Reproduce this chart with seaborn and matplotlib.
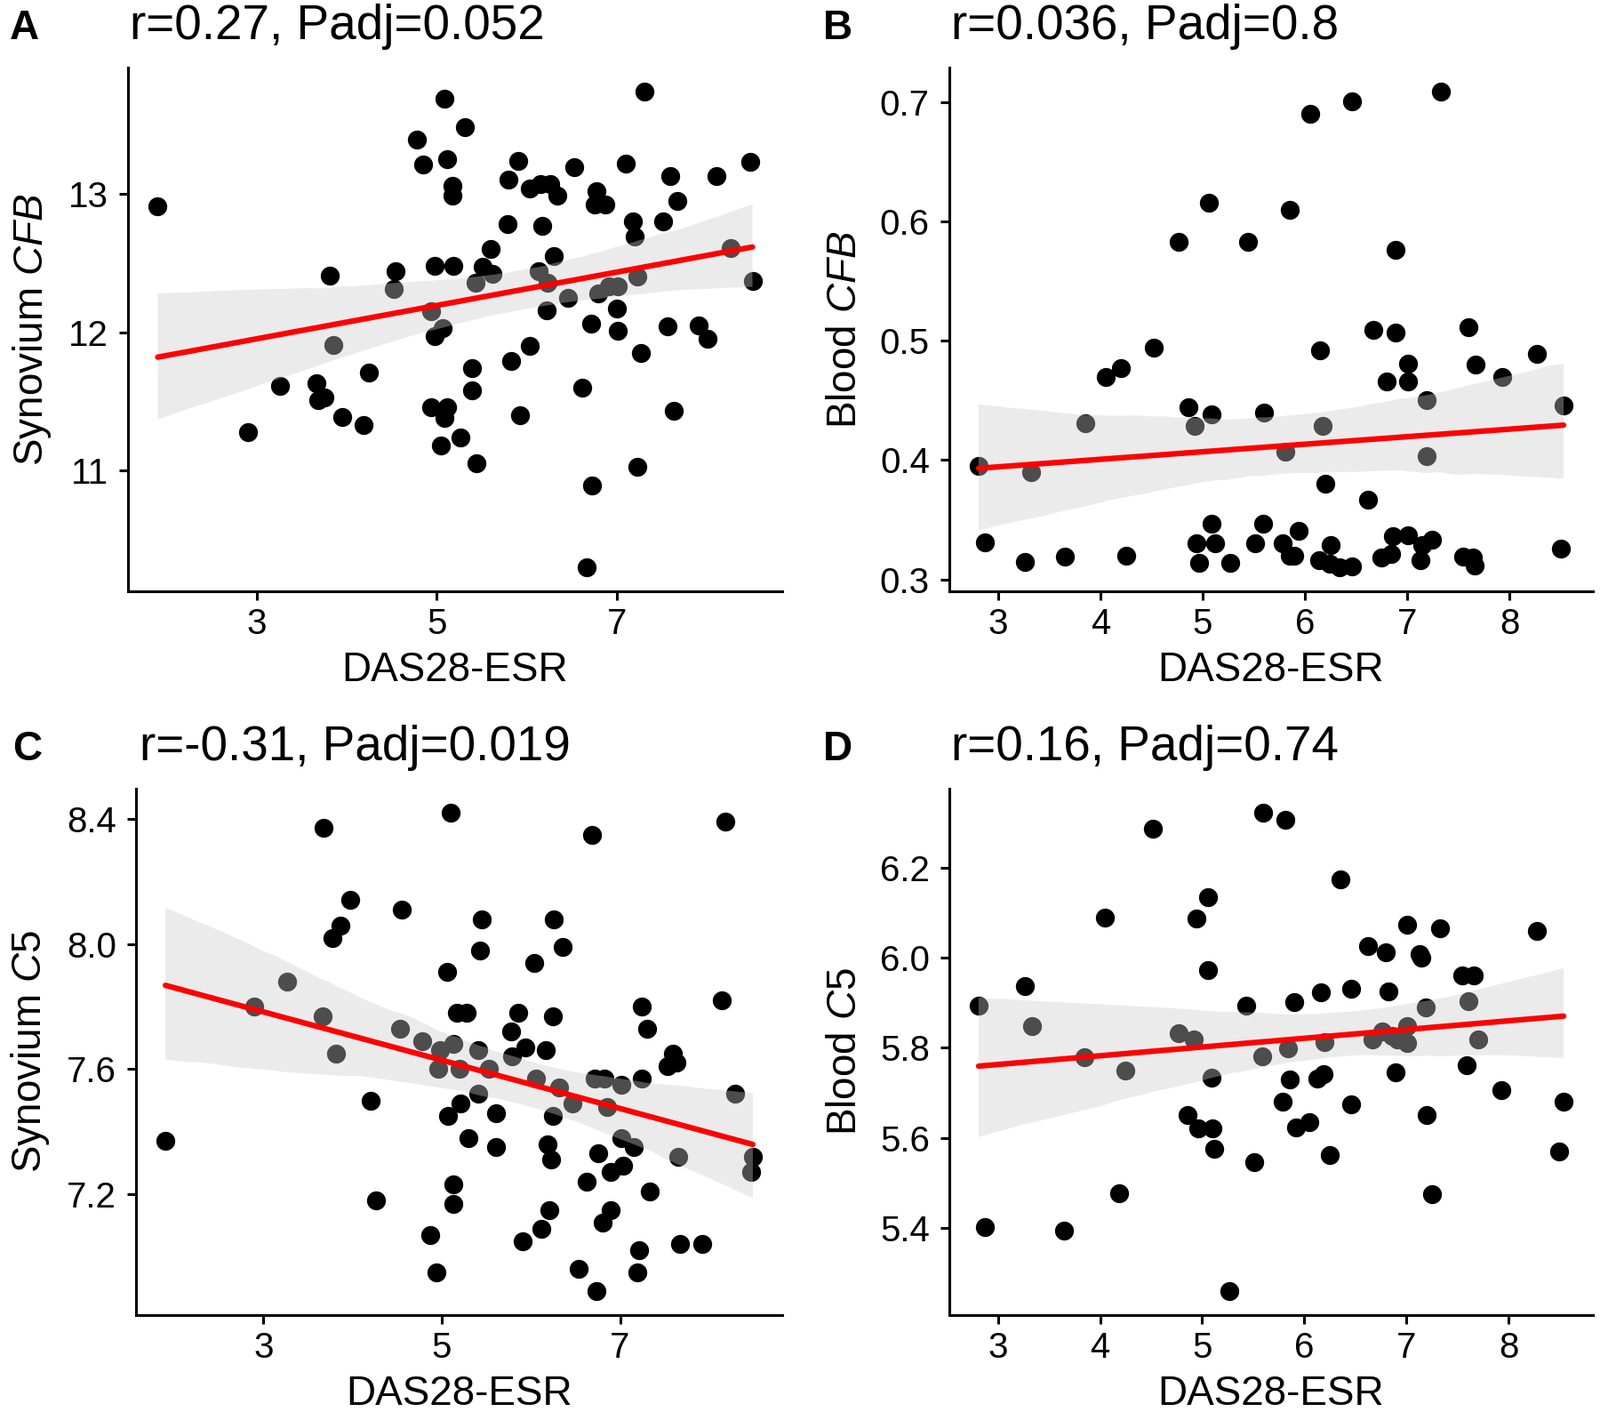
import matplotlib
matplotlib.use("Agg")
import matplotlib.pyplot as plt
import numpy as np
import pandas as pd
import seaborn as sns

# Panel A: synovium CFB vs DAS28-ESR
a_das28 = [1.90, 2.90, 3.26, 3.81, 3.85, 3.66, 3.68, 3.75, 3.95, 4.19, 4.25, 4.54, 4.52, 4.78,
           4.85, 5.09, 5.31, 5.12, 5.18, 5.18, 4.98, 5.19, 4.94, 5.07, 4.98, 4.94, 5.12, 5.09,
           5.05, 5.26, 5.44, 5.39, 5.39, 5.43, 5.51, 5.62, 5.60, 5.79, 5.80, 5.91, 5.83, 5.93,
           6.03, 6.03, 6.15, 6.26, 6.34, 6.17, 6.30, 6.13, 6.23, 6.22, 6.46, 6.53, 6.62, 6.72,
           6.73, 6.67, 6.78, 6.76, 6.87, 6.80, 6.91, 7.01, 7.00, 7.01, 7.10, 7.18, 7.20, 7.23,
           7.27, 7.23, 7.31, 7.52, 7.60, 7.67, 7.57, 7.64, 7.91, 8.11, 8.01, 8.27, 8.48, 8.51]
a_cfb = [12.91, 11.28, 11.61, 12.41, 11.91, 11.63, 11.51, 11.53, 11.39, 11.33, 11.71, 12.44,
         12.31, 13.39, 13.21, 13.69, 13.48, 13.25, 13.06, 12.99, 12.48, 12.48, 12.15, 12.03,
         11.97, 11.46, 11.46, 11.38, 11.18, 11.24, 11.05, 11.58, 11.74, 12.36, 12.47, 12.42,
         12.60, 12.78, 13.10, 13.24, 11.79, 11.40, 11.90, 13.04, 13.07, 13.07, 12.99, 12.77,
         12.55, 12.44, 12.36, 12.16, 12.25, 13.19, 11.60, 12.06, 10.89, 10.30, 13.02, 12.92,
         12.92, 12.28, 12.33, 12.33, 12.17, 12.01, 13.22, 12.80, 12.69, 12.40, 11.85, 11.03,
         13.74, 12.80, 13.13, 12.95, 12.04, 11.43, 12.05, 13.13, 11.95, 12.61, 13.23, 12.37]

# Panel B: blood CFB vs DAS28-ESR
b_das28 = [2.81, 2.87, 3.32, 3.26, 3.65, 3.85, 4.05, 4.20, 4.25, 4.52, 4.77, 4.86, 4.92, 4.94,
           4.97, 5.06, 5.09, 5.09, 5.12, 5.27, 5.44, 5.51, 5.59, 5.60, 5.81, 5.78, 5.85, 5.85,
           5.94, 5.90, 6.05, 6.15, 6.17, 6.20, 6.25, 6.14, 6.24, 6.34, 6.46, 6.46, 6.62, 6.67,
           6.75, 6.80, 6.84, 6.86, 6.89, 6.89, 7.01, 7.01, 7.01, 7.13, 7.15, 7.19, 7.19, 7.24,
           7.33, 7.55, 7.60, 7.64, 7.66, 7.67, 7.93, 8.27, 8.50, 8.53]
b_cfb = [0.395, 0.331, 0.390, 0.315, 0.319, 0.431, 0.470, 0.477, 0.320, 0.494, 0.583, 0.444,
         0.429, 0.330, 0.314, 0.616, 0.438, 0.347, 0.330, 0.314, 0.583, 0.330, 0.347, 0.440,
         0.407, 0.330, 0.610, 0.320, 0.341, 0.320, 0.690, 0.492, 0.429, 0.380, 0.329, 0.316,
         0.313, 0.310, 0.311, 0.701, 0.367, 0.509, 0.318, 0.466, 0.321, 0.336, 0.507, 0.576,
         0.481, 0.466, 0.337, 0.316, 0.329, 0.450, 0.403, 0.333, 0.709, 0.319, 0.511, 0.318,
         0.312, 0.480, 0.470, 0.489, 0.326, 0.446]

# Panel C: synovium C5 vs DAS28-ESR
c_das28 = [1.90, 2.90, 3.27, 3.67, 3.66, 3.81, 3.77, 3.86, 3.97, 4.20, 4.26, 4.55, 4.53, 4.78,
           4.87, 4.94, 4.98, 4.96, 5.06, 5.10, 5.07, 5.13, 5.13, 5.13, 5.17, 5.28, 5.20, 5.21,
           5.30, 5.41, 5.41, 5.43, 5.45, 5.53, 5.61, 5.61, 5.78, 5.79, 5.86, 5.94, 5.91, 6.04,
           6.06, 6.12, 6.17, 6.19, 6.23, 6.25, 6.26, 6.25, 6.21, 6.32, 6.36, 6.47, 6.54, 6.63,
           6.69, 6.72, 6.83, 6.76, 6.74, 6.81, 6.86, 6.90, 6.90, 7.01, 7.01, 7.03, 7.15, 7.21,
           7.19, 7.24, 7.24, 7.30, 7.33, 7.53, 7.59, 7.63, 7.65, 7.67, 7.92, 8.14, 8.18, 8.29,
           8.49, 8.47]
c_c5 = [7.37, 7.80, 7.88, 8.37, 7.77, 7.65, 8.02, 8.06, 8.14, 7.50, 7.18, 8.11, 7.73, 7.69,
        7.07, 6.95, 7.66, 7.60, 7.91, 8.42, 7.45, 7.68, 7.23, 7.17, 7.78, 7.78, 7.60, 7.49,
        7.38, 7.66, 7.52, 7.98, 8.08, 7.60, 7.46, 7.35, 7.72, 7.64, 7.78, 7.67, 7.05, 7.94,
        7.57, 7.09, 7.66, 7.36, 7.31, 7.77, 8.08, 7.45, 7.15, 7.54, 7.99, 7.49, 6.96, 7.24,
        8.35, 7.57, 7.57, 7.33, 6.89, 7.11, 7.48, 7.27, 7.15, 7.55, 7.38, 7.29, 7.35, 7.02,
        6.95, 7.57, 7.80, 7.73, 7.21, 7.61, 7.65, 7.62, 7.32, 7.04, 7.04, 7.82, 8.39, 7.52,
        7.32, 7.27]

# Panel D: blood C5 vs DAS28-ESR
d_das28 = [2.81, 2.87, 3.26, 3.33, 3.65, 3.85, 4.05, 4.19, 4.25, 4.52, 4.77, 4.86, 4.92, 4.94,
           4.96, 5.06, 5.06, 5.09, 5.10, 5.12, 5.27, 5.43, 5.51, 5.60, 5.59, 5.79, 5.81, 5.84,
           5.86, 5.90, 5.92, 6.05, 6.13, 6.16, 6.19, 6.20, 6.25, 6.35, 6.46, 6.46, 6.62, 6.67,
           6.76, 6.80, 6.82, 6.86, 6.89, 6.91, 7.01, 7.01, 7.01, 7.13, 7.15, 7.19, 7.20, 7.25,
           7.33, 7.55, 7.59, 7.61, 7.66, 7.70, 7.93, 8.28, 8.50, 8.54]
d_c5 = [5.893, 5.403, 5.938, 5.848, 5.395, 5.779, 6.089, 5.477, 5.749, 6.287, 5.833, 5.651,
        5.819, 6.087, 5.621, 6.134, 5.972, 5.733, 5.621, 5.576, 5.260, 5.893, 5.547, 6.322,
        5.781, 5.681, 6.307, 5.799, 5.729, 5.901, 5.623, 5.636, 5.731, 5.923, 5.741, 5.813,
        5.563, 6.174, 5.931, 5.674, 6.025, 5.819, 5.836, 6.012, 5.926, 5.826, 5.746, 5.819,
        5.848, 5.811, 6.074, 6.009, 6.000, 5.889, 5.651, 5.475, 6.065, 5.961, 5.761, 5.903,
        5.961, 5.819, 5.706, 6.060, 5.570, 5.681]

panel_letters = ["A", "B", "C", "D"]
panel_titles = ["r=0.27, Padj=0.052", "r=0.036, Padj=0.8",
                "r=-0.31, Padj=0.019", "r=0.16, Padj=0.74"]
y_labels = ["Synovium $\\mathit{CFB}$", "Blood $\\mathit{CFB}$",
            "Synovium $\\mathit{C5}$", "Blood $\\mathit{C5}$"]
x_ticks_syn = [3, 5, 7]
x_ticks_blood = [3, 4, 5, 6, 7, 8]
y_ticks = [[11, 12, 13], [0.3, 0.4, 0.5, 0.6, 0.7],
           [7.2, 7.6, 8.0, 8.4], [5.4, 5.6, 5.8, 6.0, 6.2]]

sns.set_theme(style="ticks")
plt.rcParams["font.family"] = ["Liberation Sans", "DejaVu Sans"]
plt.rcParams["mathtext.fontset"] = "custom"
plt.rcParams["mathtext.rm"] = "Liberation Sans"
plt.rcParams["mathtext.it"] = "Liberation Sans:italic"
plt.rcParams["text.color"] = "black"
plt.rcParams["axes.labelcolor"] = "black"
plt.rcParams["xtick.color"] = "black"
plt.rcParams["ytick.color"] = "black"

W, H = 1800, 1588
fig = plt.figure(figsize=(W / 100, H / 100), dpi=100)


def px_box(left, top, right, bottom):
    return [left / W, 1 - bottom / H, (right - left) / W, (bottom - top) / H]


boxes = [px_box(144, 76, 880, 665), px_box(1068, 76, 1792, 665),
         px_box(153, 887, 880, 1479), px_box(1068, 887, 1792, 1479)]
letter_pos = [(11, 44), (926, 44), (14, 855), (926, 855)]
title_pos = [(146, 44), (1070, 44), (157, 855), (1070, 855)]

panels = [
    pd.DataFrame({"das28": a_das28, "value": a_cfb}),
    pd.DataFrame({"das28": b_das28, "value": b_cfb}),
    pd.DataFrame({"das28": c_das28, "value": c_c5}),
    pd.DataFrame({"das28": d_das28, "value": d_c5}),
]
x_ticks = [x_ticks_syn, x_ticks_blood, x_ticks_syn, x_ticks_blood]
y_fmt = ["{:.0f}", "{:.1f}", "{:.1f}", "{:.1f}"]

for i, df in enumerate(panels):
    ax = fig.add_axes(boxes[i])
    sns.scatterplot(data=df, x="das28", y="value", ax=ax, color="black", s=235,
                    linewidth=0, zorder=2)
    sns.regplot(data=df, x="das28", y="value", ax=ax, scatter=False, color="red",
                seed=1, line_kws={"linewidth": 4.5, "zorder": 4})
    for coll in ax.collections[1:]:
        coll.set_facecolor("#cccccc")
        coll.set_edgecolor("none")
        coll.set_alpha(0.38)
        coll.set_zorder(3)

    ax.margins(0.05)
    ax.set_xticks(x_ticks[i])
    ax.set_yticks(y_ticks[i])
    ax.set_yticklabels([y_fmt[i].format(v) for v in y_ticks[i]])
    ax.set_xlabel("DAS28-ESR", fontsize=33, labelpad=8)
    ax.set_ylabel(y_labels[i], fontsize=33, labelpad=12)
    ax.tick_params(axis="both", labelsize=29, length=7, width=2.2)
    ax.tick_params(axis="y", pad=9)
    ax.tick_params(axis="x", pad=6)
    sns.despine(ax=ax)
    for side in ("left", "bottom"):
        ax.spines[side].set_linewidth(2.2)
        ax.spines[side].set_color("black")

    fig.text(letter_pos[i][0] / W, 1 - letter_pos[i][1] / H, panel_letters[i],
             fontsize=33, fontweight="bold", ha="left", va="baseline")
    fig.text(title_pos[i][0] / W, 1 - title_pos[i][1] / H, panel_titles[i],
             fontsize=39.5, ha="left", va="baseline")

fig.savefig("out.png", dpi=100, facecolor="white")
